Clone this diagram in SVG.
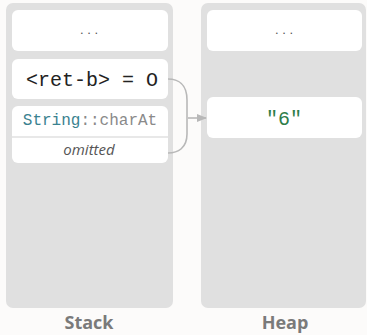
<svg xmlns="http://www.w3.org/2000/svg" width="367" height="335" viewBox="0 0 367 335">
<style>
.panel{fill:#e0e0e0}
.box{fill:#ffffff}
.lbl{font-family:"Open Sans","Liberation Sans",sans-serif;font-weight:700;font-size:18px;fill:#7a7a7a;text-anchor:middle}
.mono{font-family:"Liberation Mono","DejaVu Sans Mono",monospace}
.dots{font-family:"Liberation Sans",sans-serif;font-size:13px;fill:#555;text-anchor:middle}
.conn{fill:none;stroke:#b8b8b8;stroke-width:1.6}
</style>
<defs>
<marker id="ah" viewBox="0 0 10 10" refX="9" refY="5" markerWidth="10" markerHeight="10" markerUnits="userSpaceOnUse" orient="auto">
<path d="M0,1 L10,5 L0,9 Z" fill="#b8b8b8"/>
</marker>
</defs>
<rect width="367" height="335" fill="#fcfbfa"/>
<g id="stack">
<rect class="panel" x="6" y="3" width="167" height="305" rx="7"/>
<text class="lbl" x="89" y="329">Stack</text>
</g>
<g id="heap">
<rect class="panel" x="201" y="3" width="165" height="305" rx="7"/>
<text class="lbl" x="285" y="329">Heap</text>
</g>
<g id="stack-dots">
<rect class="box" x="12" y="10" width="156" height="41" rx="6"/>
<text class="dots" x="89" y="34">. . .</text>
</g>
<g id="ret-b">
<rect class="box" x="12" y="59" width="156" height="40" rx="6"/>
<text class="mono" x="26" y="86" font-size="20" fill="#222">&lt;ret-b&gt; = O</text>
</g>
<g id="frame">
<rect class="box" x="12" y="106" width="156" height="57" rx="6"/>
<line x1="12" y1="137" x2="168" y2="137" stroke="#e0e0e0" stroke-width="1.5"/>
<text class="mono" x="90" y="125" font-size="16" text-anchor="middle"><tspan fill="#3a8290">String</tspan><tspan fill="#8a8a8a">::charAt</tspan></text>
<text x="89" y="155" font-family="'Open Sans','Liberation Sans',sans-serif" font-style="italic" font-size="15" fill="#555" text-anchor="middle">omitted</text>
</g>
<g id="heap-dots">
<rect class="box" x="207" y="10" width="155" height="41" rx="6"/>
<text class="dots" x="284" y="34">. . .</text>
</g>
<g id="str6">
<rect class="box" x="207" y="97" width="155" height="41" rx="6"/>
<text class="mono" x="284" y="125" font-size="20" fill="#2e7d4a" text-anchor="middle">"6"</text>
</g>
<g id="connectors">
<path class="conn" d="M168,79 C178,79 187,84 187,100 L187,134 C187,148 178,153 168,153"/>
<line class="conn" x1="188" y1="118" x2="206" y2="118" marker-end="url(#ah)"/>
</g>
</svg>
